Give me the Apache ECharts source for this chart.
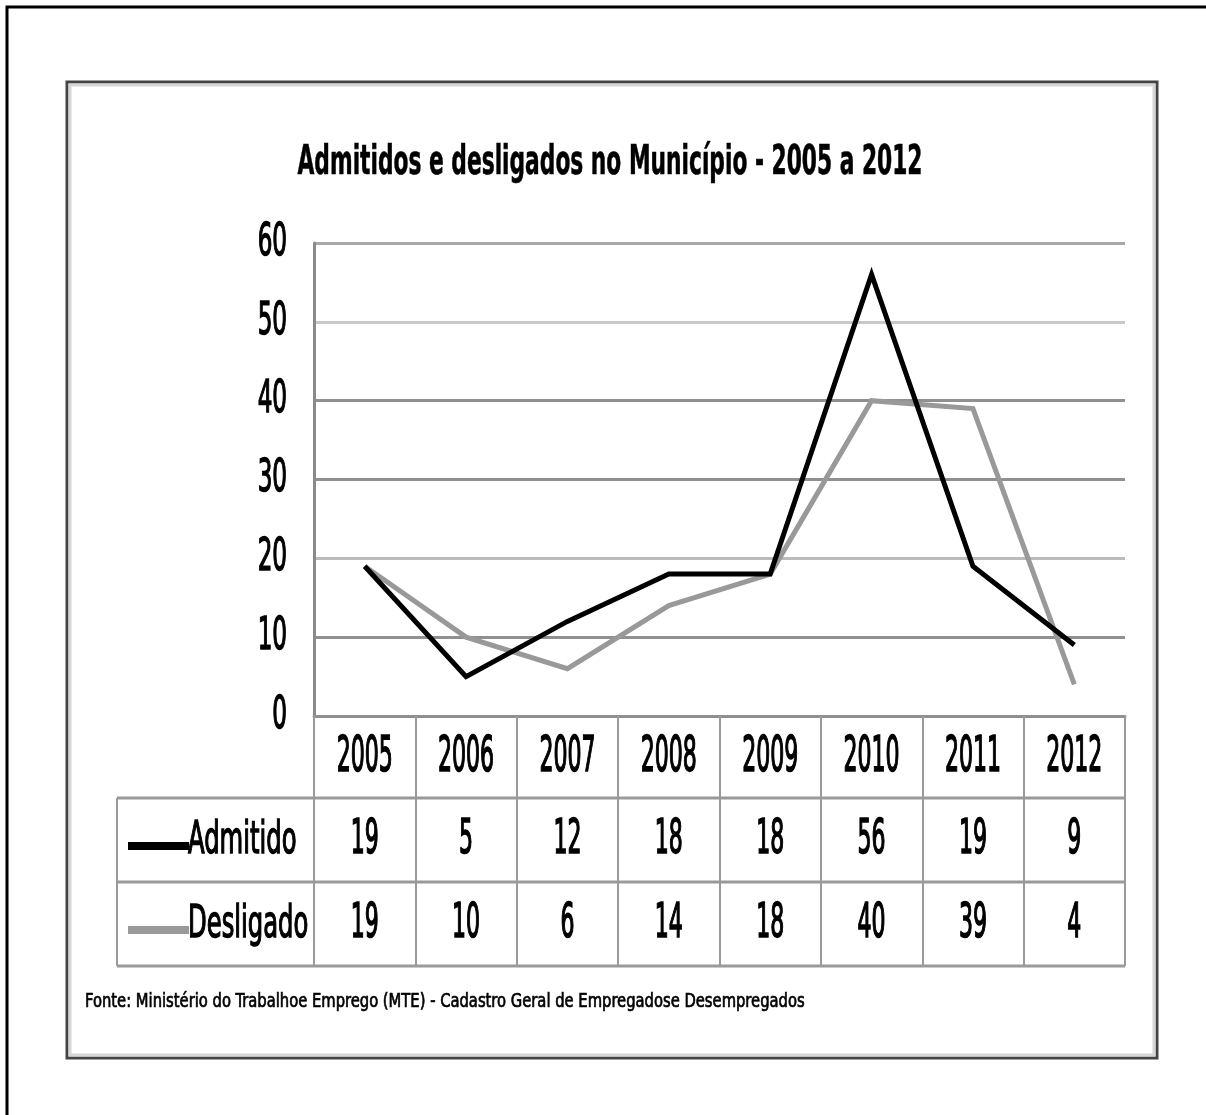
<!DOCTYPE html>
<html>
<head>
<meta charset="utf-8">
<script src="https://cdn.jsdelivr.net/npm/echarts@6/dist/echarts.min.js"></script>
<style>html,body{margin:0;padding:0;background:#fff;}#c{width:1206px;height:1115px;}</style>
</head>
<body>
<div id="c"></div>
<script>
const years = ['2005','2006','2007','2008','2009','2010','2011','2012'];
const admitido = [19, 5, 12, 18, 18, 56, 19, 9];
const desligado = [19, 10, 6, 14, 18, 40, 39, 4];
const yTicks = [0, 10, 20, 30, 40, 50, 60];
const titleText = 'Admitidos e desligados no Município - 2005 a 2012';
const sourceText = 'Fonte: Ministério do Trabalhoe Emprego (MTE) - Cadastro Geral de Empregadose Desempregados';
const seriesNames = ['Admitido', 'Desligado'];

const FF = "'Liberation Sans Narrow', 'DejaVu Sans Condensed', 'Arial Narrow', sans-serif";
const chart = echarts.init(document.getElementById('c'), null, {renderer: 'canvas'});

const GL = 314, GR = 1125, GT = 243, GB = 716;
const tableLine = '#9a9a9a';
const rowY = [758, 841, 925];

const option = {
  backgroundColor: '#fff',
  animation: false,
  grid: {left: GL, right: 1206 - GR, top: GT, bottom: 1115 - GB, containLabel: false},
  legend: {
    orient: 'vertical', left: 123, top: rowY[1] - 4,
    itemWidth: 61, itemHeight: 8, itemGap: 76,
    icon: 'rect',
    data: seriesNames,
    formatter: function () { return ''; },
    textStyle: {fontSize: 1, lineHeight: 1}
  },
  xAxis: {
    type: 'category', data: years, boundaryGap: true,
    axisLine: {show: true, lineStyle: {color: '#909090', width: 3}},
    axisTick: {show: true, alignWithLabel: false, inside: false, length: 250, interval: 0,
               lineStyle: {color: tableLine, width: 2}},
    splitLine: {show: false},
    axisLabel: {show: false}
  },
  yAxis: {
    type: 'value', min: 0, max: 60, interval: 10,
    axisLine: {show: true, lineStyle: {color: '#8a8a8a', width: 3}},
    axisTick: {show: false},
    axisLabel: {show: false},
    splitLine: {show: true, lineStyle: {
      color: ['#909090', '#909090', '#bbbbbb', '#909090', '#909090', '#c8c8c8', '#a8a8a8'], width: 3}}
  },
  series: [
    {
      name: seriesNames[0], type: 'line', data: admitido,
      symbol: 'none', z: 3, color: '#000',
      lineStyle: {color: '#000', width: 5, join: 'miter'}
    },
    {
      name: seriesNames[1], type: 'line', data: desligado,
      symbol: 'none', z: 2, color: '#999999',
      lineStyle: {color: '#999999', width: 5, join: 'miter'}
    }
  ]
};
chart.setOption(option);

// squeezed text helper (the reference uses a horizontally compressed condensed face)
function sText(text, x, y, size, sx, align, bold, border) {
  return {
    type: 'text', x: x, y: y, scaleX: sx, silent: true, z: 10,
    style: {text: text, fontFamily: FF, fontSize: size, fontWeight: bold ? 'bold' : 'normal',
            fill: '#000', align: align, verticalAlign: 'middle',
            stroke: border ? '#000' : null, lineWidth: border || 0}
  };
}

const g = [
  {type: 'rect', shape: {x: 7, y: 7, width: 1400, height: 1300},
   style: {fill: null, stroke: '#000', lineWidth: 3}, silent: true},
  {type: 'rect', shape: {x: 67, y: 82, width: 1090, height: 976},
   style: {fill: null, stroke: '#444', lineWidth: 3}, silent: true},
  {type: 'rect', shape: {x: 70, y: 85, width: 1084, height: 970},
   style: {fill: null, stroke: '#d6d6d6', lineWidth: 3}, silent: true},
  {type: 'line', shape: {x1: 117, y1: 798, x2: GR, y2: 798}, style: {stroke: tableLine, lineWidth: 3}, silent: true},
  {type: 'line', shape: {x1: 117, y1: 882, x2: GR, y2: 882}, style: {stroke: tableLine, lineWidth: 3}, silent: true},
  {type: 'line', shape: {x1: 117, y1: 966, x2: GR, y2: 966}, style: {stroke: tableLine, lineWidth: 3}, silent: true},
  {type: 'line', shape: {x1: 117, y1: 798, x2: 117, y2: 966}, style: {stroke: tableLine, lineWidth: 2}, silent: true},
  sText(titleText, 610, 163, 41, 0.59, 'center', true, 0.6),
  sText(sourceText, 85, 1002, 20, 0.82, 'left', false, 0.7),
  sText(seriesNames[0], 188, rowY[1], 45, 0.6, 'left', false, 1.4),
  sText(seriesNames[1], 188, rowY[2], 45, 0.6, 'left', false, 1.4)
];

yTicks.forEach(function (v) {
  const py = chart.convertToPixel({yAxisIndex: 0}, v);
  g.push(sText(String(v), GL - 27, py, 45, 0.57, 'right', false, 1.4));
});
years.forEach(function (yr, i) {
  const px = chart.convertToPixel({xAxisIndex: 0}, yr);
  g.push(sText(yr, px, rowY[0], 50, 0.49, 'center', false, 1.6));
  g.push(sText(String(admitido[i]), px, rowY[1], 48, 0.51, 'center', false, 1.6));
  g.push(sText(String(desligado[i]), px, rowY[2], 48, 0.51, 'center', false, 1.6));
});

chart.setOption({graphic: g});
</script>
</body>
</html>
